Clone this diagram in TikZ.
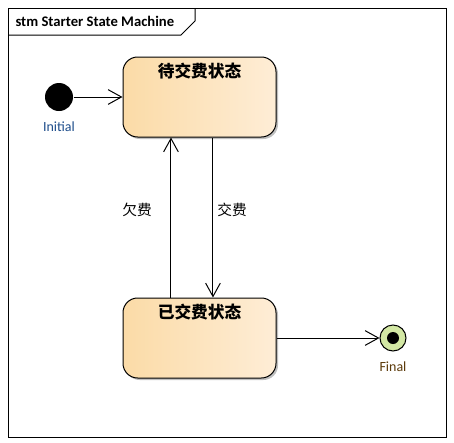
\documentclass[tikz,border=0pt]{standalone}
\usepackage{fontspec}
\setmainfont{Carlito}
\newfontfamily\cjk{Noto Sans CJK SC}
\usepackage{xcolor}
\usetikzlibrary{positioning,arrows.meta,shadows}

\definecolor{stateleft}{HTML}{FBDBA7}
\definecolor{stateright}{HTML}{FEEDD6}
\definecolor{finalgreen}{HTML}{D3E8A4}
\definecolor{initblue}{HTML}{1F4E8C}
\definecolor{finalbrown}{HTML}{5C3A0A}

\begin{document}
\begin{tikzpicture}[x=0.75pt,y=-0.75pt,line width=0.75pt,
    state/.style={draw,rounded corners=11pt,minimum width=114.75pt,minimum height=60pt,
        left color=stateleft,right color=stateright,
        drop shadow={shadow xshift=1.5pt,shadow yshift=-1.5pt,opacity=0.25,fill=black}},
    statename/.style={font=\cjk\bfseries\fontsize{12.5}{14}\selectfont,inner sep=0pt},
    trans/.style={-{Straight Barb[length=10pt,width=11pt,line width=0.75pt]}},
    guard/.style={font=\cjk\fontsize{11}{13}\selectfont,inner sep=0pt},
    pseudo/.style={font=\fontsize{10.5}{12}\selectfont,inner sep=0pt}]
        \useasboundingbox[fill=white] (0,0) rectangle (454,443);
        % frame and tab
        \draw (8,8) rectangle (446,437);
        \draw (8,35) -- (181,35) -- (195,21) -- (195,8);
        \node[anchor=west,font=\bfseries\fontsize{11}{13}\selectfont,inner sep=0pt] (stm) at (15,21) {stm Starter State Machine};
        % states
        \node[state] (unpaid) at (199.5,97) {};
        \node[statename,below=4.5pt of unpaid.north] (unpaidname) {待交费状态};
        \node[state] (paid) at (199.5,338) {};
        \node[statename,below=4.5pt of paid.north] (paidname) {已交费状态};
        % pseudo states
        \node[circle,fill=black,minimum size=21pt,inner sep=0pt] (init) at (59,97) {};
        \node[pseudo,text=initblue,below=7pt of init] (initlabel) {Initial};
        \node[circle,draw,fill=finalgreen,minimum size=19.5pt,inner sep=0pt] (final) at (393,338) {};
        \fill (final) circle[radius=4.5pt];
        \node[pseudo,text=finalbrown,below=7pt of final] (finallabel) {Final};
        % transitions
        \draw[trans] (init) -- (unpaid);
        \draw[trans] ([xshift=-21.4pt]paid.north) -- ([xshift=-21.4pt]unpaid.south)
            node[guard,pos=0.55,left=14pt] (owe) {欠费};
        \draw[trans] ([xshift=10.1pt]unpaid.south) -- ([xshift=10.1pt]paid.north)
            node[guard,pos=0.45,right=3pt] (pay) {交费};
        \draw[trans] (paid) -- (final);
\end{tikzpicture}
\end{document}
